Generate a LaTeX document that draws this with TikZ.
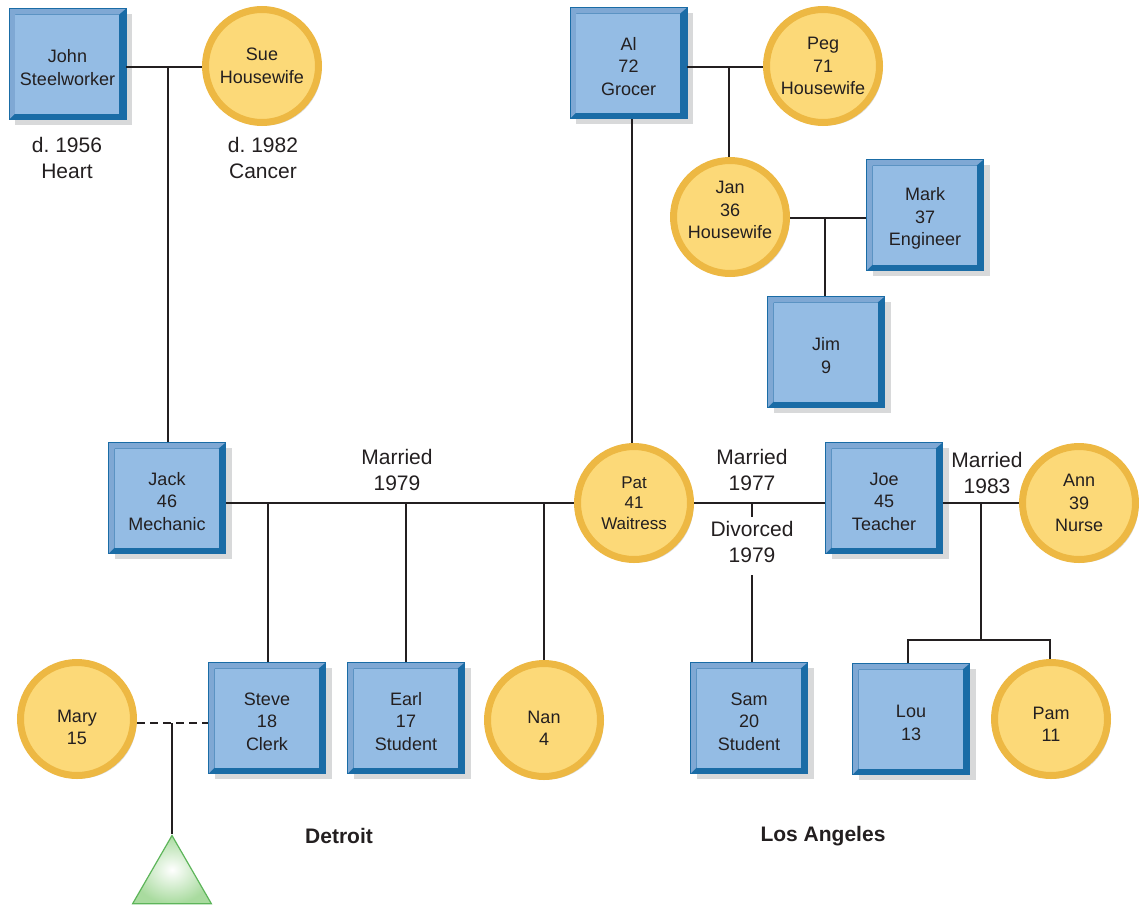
\documentclass[tikz,border=0pt]{standalone}
\usepackage{fontspec}
\setmainfont{Liberation Sans}
\frenchspacing
\usetikzlibrary{shadows,shapes.geometric,calc}
\definecolor{ink}{HTML}{231F20}
\definecolor{bface}{HTML}{94BCE4}
\definecolor{blight}{HTML}{7FA8D4}
\definecolor{bdark}{HTML}{1A6CA6}
\definecolor{cring}{HTML}{EDB843}
\definecolor{cface}{HTML}{FCD978}
\definecolor{shade}{HTML}{D8D9DA}
\definecolor{tgreen}{HTML}{5DB55A}
\definecolor{tfill}{HTML}{A9DB9F}
\newcommand{\topstrut}[1][20pt]{\rule{0pt}{#1}}
\newcommand{\botstrut}[1]{\rule[-#1]{0pt}{#1}}
\begin{document}
\begin{tikzpicture}[x=1pt,y=-1pt,
  txt/.style={font=\fontsize{18}{22.5}\selectfont, text=ink, align=center},
  pbox/.style={txt, rectangle, minimum width=117pt, minimum height=111pt, inner sep=0pt,
    fill=bdark, draw=bdark, line width=0.8pt,
    drop shadow={shadow xshift=6pt, shadow yshift=-5pt, fill=shade, opacity=1},
    path picture={
      \fill[blight] (path picture bounding box.north west) -- (path picture bounding box.north east)
        -- ([shift={(-7pt,-6pt)}]path picture bounding box.north east)
        -- ([shift={(6pt,-6pt)}]path picture bounding box.north west)
        -- ([shift={(6pt,6pt)}]path picture bounding box.south west)
        -- (path picture bounding box.south west) -- cycle;
      \fill[bface] ([shift={(6pt,-6pt)}]path picture bounding box.north west) rectangle ([shift={(-7pt,6pt)}]path picture bounding box.south east);
    }},
  pcirc/.style={txt, circle, minimum size=113pt, inner sep=0pt, fill=cface, draw=cring, line width=7pt,
    drop shadow={shadow xshift=3pt, shadow yshift=-3pt, fill=shade, opacity=1}},
  note/.style={font=\fontsize{21}{26}\selectfont, text=ink, align=center},
  place/.style={font=\fontsize{21}{26}\selectfont\bfseries, text=ink},
  link/.style={draw=ink, line width=2.5pt},
  tri/.style={regular polygon, regular polygon sides=3, minimum size=91pt, inner sep=0pt,
    draw=tgreen, line width=1.2pt, inner color=white, outer color=tfill}
]
\useasboundingbox (0,0) rectangle (1139,905);

% people
\node[pbox] (john) at (67.5,64) {\topstrut John\\Steelworker};
\node[pcirc] (sue) at (262,66) {Sue\\Housewife};
\node[pbox] (al) at (628.5,63) {\topstrut Al\\72\\Grocer};
\node[pcirc] (peg) at (823,66) {Peg\\71\\Housewife};
\node[pcirc] (jan) at (730,217) {Jan\\36\\Housewife\botstrut{14pt}};
\node[pbox] (mark) at (925,215) {\topstrut Mark\\37\\Engineer};
\node[pbox] (jim) at (826,352) {\topstrut Jim\\9};
\node[pbox] (jack) at (167,498) {\topstrut Jack\\46\\Mechanic};
\node[pcirc, font=\fontsize{17}{20.5}\selectfont] (pat) at (634,503) {Pat\\41\\Waitress};
\node[pbox] (joe) at (884,498) {\topstrut Joe\\45\\Teacher};
\node[pcirc] (ann) at (1079,503) {Ann\\39\\Nurse};
\node[pcirc] (mary) at (77,719) {\topstrut[29pt]Mary\\15};
\node[pbox] (steve) at (267,718) {\topstrut Steve\\18\\Clerk};
\node[pbox] (earl) at (406,718) {\topstrut Earl\\17\\Student};
\node[pcirc] (nan) at (544,720) {\topstrut[29pt]Nan\\4};
\node[pbox] (sam) at (749,718) {\topstrut Sam\\20\\Student};
\node[pbox] (lou) at (911,719) {\topstrut Lou\\13};
\node[pcirc] (pam) at (1051,719) {\topstrut[23pt]Pam\\11};
\node[tri] (baby) at (172,881) {};

% labels
\node[note] (d1) at (67,158) {d. 1956\\Heart};
\node[note] (d2) at (263,158) {d. 1982\\Cancer};
\node[note] (m79) at (397,470) {Married\\1979};
\node[note] (m77) at (752,470) {Married\\1977};
\node[note] (dv79) at (752,542) {Divorced\\1979};
\node[note] (m83) at (987,473) {Married\\1983};
\node[place] (det) at (339,836) {Detroit};
\node[place] (la) at (823,836) {Los Angeles};

% junction coordinates
\coordinate (js) at (168,67);
\coordinate (ap) at (729,67);
\coordinate (jm) at (825,218);
\coordinate (jp) at (0,503);
\coordinate (pj) at (752,503);
\coordinate (pjtick) at (752,517);
\coordinate (pjlow) at (752,575);
\coordinate (ja) at (981,503);
\coordinate (jaknee) at (981,640);
\coordinate (ms) at (172,723);

% connectors
\draw[link] (js -| john.east) -- (js -| sue.west);
\draw[link] (js) -- (js |- jack.north);
\draw[link] (ap -| al.east) -- (ap -| peg.west);
\draw[link] (ap) -- (ap |- jan.north);
\draw[link] (al.south -| 632,0) -- (632,0 |- pat.north);
\draw[link] (jm -| jan.east) -- (jm -| mark.west);
\draw[link] (jm) -- (jm |- jim.north);
\draw[link] (jp -| jack.east) -- (jp -| pat.west);
\draw[link] (268,503) -- (268,0 |- steve.north);
\draw[link] (406,503) -- (406,0 |- earl.north);
\draw[link] (544,503) -- (544,0 |- nan.north);
\draw[link] (pj -| pat.east) -- (pj -| joe.west);
\draw[link] (pj) -- (pjtick);
\draw[link] (pjlow) -- (pjlow |- sam.north);
\draw[link] (ja -| joe.east) -- (ja -| ann.west);
\draw[link] (ja) -- (jaknee);
\draw[link] (jaknee) -- (908,640) -- (908,0 |- lou.north);
\draw[link] (jaknee) -- (1050,640) -- (1050,0 |- pam.north);
\draw[link, dashed, dash pattern=on 8pt off 5pt] (ms -| mary.east) -- (ms -| steve.west);
\draw[link] (ms) -- (baby.north);
\end{tikzpicture}
\end{document}
